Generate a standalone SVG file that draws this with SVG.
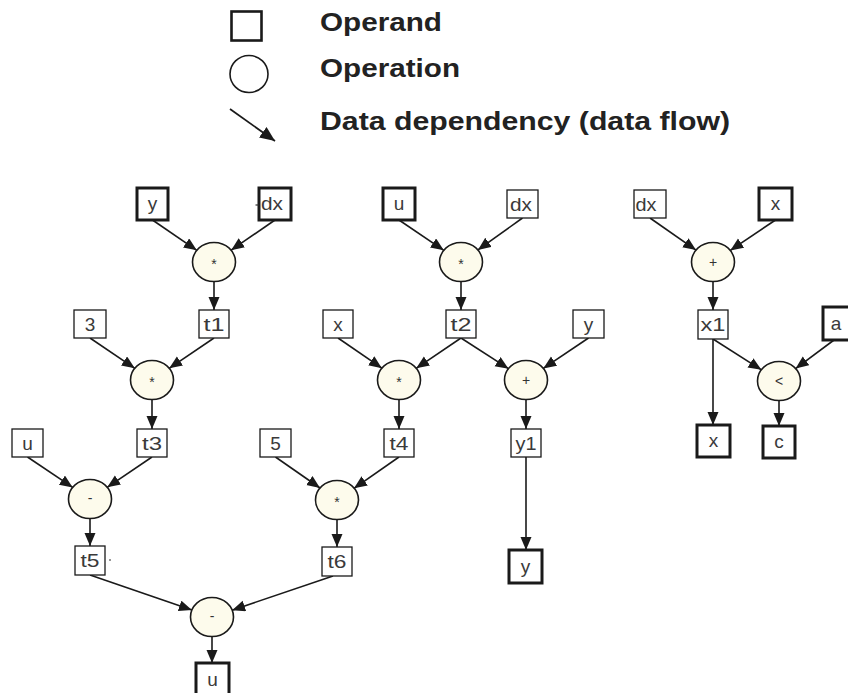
<svg xmlns="http://www.w3.org/2000/svg" width="848" height="693" viewBox="0 0 848 693">
<defs>
<marker id="ah" markerUnits="userSpaceOnUse" markerWidth="14" markerHeight="12" refX="13" refY="5.5" orient="auto">
<path d="M0,0 L13,5.5 L0,11 z" fill="#1a1a1a"/>
</marker>
<marker id="ahl" markerUnits="userSpaceOnUse" markerWidth="16" markerHeight="14" refX="15" refY="6.5" orient="auto">
<path d="M0,0 L15,6.5 L0,13 z" fill="#1a1a1a"/>
</marker>
<style>
.op rect{fill:#fff;stroke:#1a1a1a;stroke-width:1.3}
.op.io rect{stroke-width:3}
.fn ellipse{fill:#fdfbec;stroke:#1a1a1a;stroke-width:1.6}
.lbl{font-family:"Liberation Sans",Arial,sans-serif;font-size:19px;fill:#3a3a3a;text-anchor:middle}
.sym{font-family:"Liberation Sans",Arial,sans-serif;font-size:14px;fill:#333;text-anchor:middle}
.leg{font-family:"Liberation Sans",Arial,sans-serif;font-size:26px;font-weight:bold;fill:#222}
#edges line{stroke:#1a1a1a;stroke-width:1.6;marker-end:url(#ah)}
</style>
</defs>
<rect width="848" height="693" fill="#fff"/>

<g id="legend">
<rect x="231.5" y="11.5" width="30" height="29" fill="none" stroke="#1a1a1a" stroke-width="2.6"/>
<ellipse cx="249" cy="74" rx="19" ry="18.5" fill="none" stroke="#1a1a1a" stroke-width="1.6"/>
<line x1="230" y1="109" x2="275" y2="141" stroke="#1a1a1a" stroke-width="1.8" marker-end="url(#ahl)"/>
<text class="leg" x="320" y="31" textLength="122" lengthAdjust="spacingAndGlyphs">Operand</text>
<text class="leg" x="320" y="77" textLength="140" lengthAdjust="spacingAndGlyphs">Operation</text>
<text class="leg" x="320" y="130" textLength="410" lengthAdjust="spacingAndGlyphs">Data dependency (data flow)</text>
</g>

<g id="edges">
<line x1="152.5" y1="220" x2="196.8" y2="250.3"/>
<line x1="275" y1="220" x2="231.1" y2="250.2"/>
<line x1="214" y1="281.5" x2="214" y2="310"/>
<line x1="90" y1="338" x2="134.8" y2="368.3"/>
<line x1="214" y1="338" x2="169.2" y2="368.3"/>
<line x1="152" y1="399.5" x2="152" y2="429"/>
<line x1="27.5" y1="457" x2="72.7" y2="487.4"/>
<line x1="152" y1="457" x2="107.2" y2="487.3"/>
<line x1="90" y1="518.5" x2="90" y2="546"/>
<line x1="275.5" y1="457" x2="320" y2="488"/>
<line x1="399" y1="457" x2="354" y2="488.3"/>
<line x1="337" y1="519.5" x2="337" y2="547"/>
<line x1="90" y1="575" x2="191.9" y2="610.1"/>
<line x1="333" y1="576" x2="232.1" y2="610.2"/>
<line x1="212" y1="636.5" x2="212" y2="663"/>
<line x1="399" y1="220" x2="443.8" y2="250.3"/>
<line x1="522.5" y1="218" x2="477.9" y2="249.9"/>
<line x1="461" y1="281.5" x2="461" y2="310"/>
<line x1="338" y1="338" x2="381.9" y2="368.2"/>
<line x1="461" y1="338" x2="416.2" y2="368.3"/>
<line x1="461" y1="338" x2="508.5" y2="368.7"/>
<line x1="588.5" y1="338" x2="543.3" y2="368.4"/>
<line x1="399" y1="399.5" x2="399" y2="429"/>
<line x1="526" y1="399.5" x2="526" y2="429"/>
<line x1="526" y1="457" x2="526" y2="550"/>
<line x1="650" y1="218" x2="696" y2="250.1"/>
<line x1="775.5" y1="220" x2="730.3" y2="250.4"/>
<line x1="713" y1="281.5" x2="713" y2="310"/>
<line x1="713" y1="339" x2="761.4" y2="369.8"/>
<line x1="834" y1="340" x2="795.6" y2="368.6"/>
<line x1="713" y1="339" x2="713" y2="425"/>
<line x1="779" y1="400.5" x2="779" y2="426"/>
</g>

<g id="n_y_in" class="op io"><rect x="137" y="188" width="31" height="32"/><text class="lbl" x="152.5" y="210">y</text></g>
<g id="n_dx_in1" class="op io"><rect x="259" y="188" width="32" height="32"/><text class="lbl" x="272" y="210" textLength="22" lengthAdjust="spacingAndGlyphs">dx</text><line x1="255.5" y1="205" x2="258.5" y2="205" stroke="#333" stroke-width="1.2"/></g>
<g id="n_mul1" class="fn"><ellipse cx="214" cy="262" rx="21.5" ry="19.5"/><text class="sym" x="214" y="269">*</text></g>
<g id="n_t1" class="op"><rect x="199" y="310" width="30" height="28"/><text class="lbl" x="214" y="331" textLength="21" lengthAdjust="spacingAndGlyphs">t1</text></g>
<g id="n_3" class="op"><rect x="74" y="310" width="32" height="28"/><text class="lbl" x="90" y="331">3</text></g>
<g id="n_mul2" class="fn"><ellipse cx="152" cy="380" rx="21.5" ry="19.5"/><text class="sym" x="152" y="387">*</text></g>
<g id="n_u_in1" class="op"><rect x="12" y="429" width="31" height="28"/><text class="lbl" x="27.5" y="450">u</text></g>
<g id="n_t3" class="op"><rect x="137" y="429" width="30" height="28"/><text class="lbl" x="152" y="450" textLength="20" lengthAdjust="spacingAndGlyphs">t3</text></g>
<g id="n_sub1" class="fn"><ellipse cx="90" cy="499" rx="21.5" ry="19.5"/><text class="sym" x="90" y="503">-</text></g>
<g id="n_t5" class="op"><rect x="75" y="546" width="30" height="29"/><text class="lbl" x="90" y="567" textLength="19" lengthAdjust="spacingAndGlyphs">t5</text><line x1="109" y1="560" x2="111" y2="560" stroke="#333" stroke-width="1.2"/></g>
<g id="n_5" class="op"><rect x="260" y="429" width="31" height="28"/><text class="lbl" x="275.5" y="450">5</text></g>
<g id="n_t4" class="op"><rect x="384" y="429" width="30" height="28"/><text class="lbl" x="399" y="450" textLength="19" lengthAdjust="spacingAndGlyphs">t4</text></g>
<g id="n_mul3" class="fn"><ellipse cx="337" cy="500" rx="21.5" ry="19.5"/><text class="sym" x="337" y="507">*</text></g>
<g id="n_t6" class="op"><rect x="322" y="547" width="30" height="29"/><text class="lbl" x="337" y="568" textLength="19" lengthAdjust="spacingAndGlyphs">t6</text></g>
<g id="n_sub2" class="fn"><ellipse cx="212" cy="617" rx="21.5" ry="19.5"/><text class="sym" x="212" y="621">-</text></g>
<g id="n_u_out" class="op io"><rect x="196" y="663" width="33" height="34"/><text class="lbl" x="212.5" y="686">u</text></g>

<g id="n_u_in2" class="op io"><rect x="383" y="188" width="32" height="32"/><text class="lbl" x="399" y="210">u</text></g>
<g id="n_dx_in2" class="op"><rect x="507" y="190" width="31" height="28"/><text class="lbl" x="521" y="211" textLength="22" lengthAdjust="spacingAndGlyphs">dx</text></g>
<g id="n_mul4" class="fn"><ellipse cx="461" cy="262" rx="21.5" ry="19.5"/><text class="sym" x="461" y="269">*</text></g>
<g id="n_t2" class="op"><rect x="446" y="310" width="30" height="28"/><text class="lbl" x="461" y="331" textLength="21" lengthAdjust="spacingAndGlyphs">t2</text></g>
<g id="n_x_in1" class="op"><rect x="323" y="310" width="30" height="28"/><text class="lbl" x="338" y="331">x</text></g>
<g id="n_y_in2" class="op"><rect x="573" y="310" width="31" height="28"/><text class="lbl" x="588.5" y="331">y</text></g>
<g id="n_mul5" class="fn"><ellipse cx="399" cy="380" rx="21.5" ry="19.5"/><text class="sym" x="399" y="387">*</text></g>
<g id="n_add1" class="fn"><ellipse cx="526" cy="380" rx="21.5" ry="19.5"/><text class="sym" x="526" y="385">+</text></g>
<g id="n_y1" class="op"><rect x="511" y="429" width="30" height="28"/><text class="lbl" x="526" y="450" textLength="21" lengthAdjust="spacingAndGlyphs">y1</text></g>
<g id="n_y_out" class="op io"><rect x="509" y="550" width="33" height="33"/><text class="lbl" x="525.5" y="573">y</text></g>

<g id="n_dx_in3" class="op"><rect x="634" y="190" width="32" height="28"/><text class="lbl" x="646" y="211" textLength="21" lengthAdjust="spacingAndGlyphs">dx</text></g>
<g id="n_x_in2" class="op io"><rect x="759" y="188" width="33" height="32"/><text class="lbl" x="775.5" y="210">x</text></g>
<g id="n_add2" class="fn"><ellipse cx="713" cy="262" rx="21.5" ry="19.5"/><text class="sym" x="713" y="267">+</text></g>
<g id="n_x1" class="op"><rect x="698" y="310" width="30" height="29"/><text class="lbl" x="713" y="331" textLength="25" lengthAdjust="spacingAndGlyphs">x1</text></g>
<g id="n_a" class="op io"><rect x="823" y="307" width="32" height="33"/><text class="lbl" x="836" y="330">a</text></g>
<g id="n_lt" class="fn"><ellipse cx="779" cy="381" rx="21.5" ry="19.5"/><text class="sym" x="779" y="386">&lt;</text></g>
<g id="n_x_out" class="op io"><rect x="697" y="425" width="33" height="32"/><text class="lbl" x="713.5" y="447">x</text></g>
<g id="n_c" class="op io"><rect x="763" y="426" width="32" height="32"/><text class="lbl" x="779" y="448">c</text></g>
</svg>
